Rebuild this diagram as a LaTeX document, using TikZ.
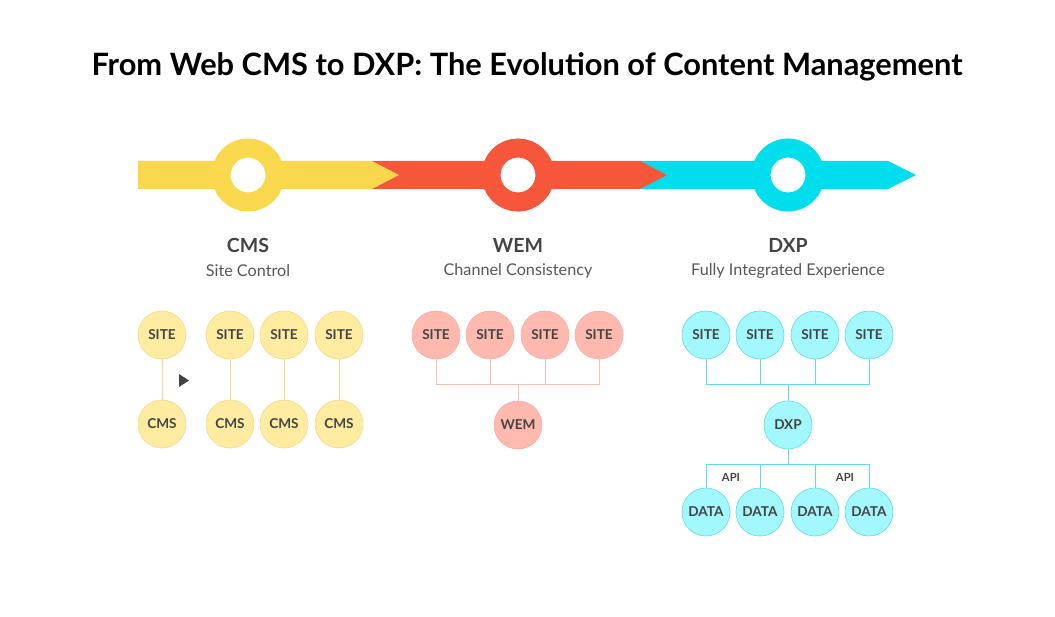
\documentclass[tikz,border=0pt]{standalone}
\usepackage{fontspec}
\setmainfont{Lato}
\definecolor{bandyellow}{HTML}{F9D84E}
\definecolor{bandred}{HTML}{F6573B}
\definecolor{bandcyan}{HTML}{00DEEE}
\definecolor{paleyellow}{HTML}{FFECA0}
\definecolor{palered}{HTML}{FFB9AE}
\definecolor{palecyan}{HTML}{A2F8FC}
\definecolor{edgeyellow}{HTML}{F2D98A}
\definecolor{edgered}{HTML}{F5AEA3}
\definecolor{edgecyan}{HTML}{5EDDE8}
\definecolor{textgray}{HTML}{444444}
\begin{document}
\begin{tikzpicture}[x=1pt, y=-1pt,
    ring/.style={circle, minimum size=54pt, inner sep=0pt, line width=19pt, fill=white},
    heading/.style={font=\bfseries\fontsize{19.5}{22}\selectfont, text=textgray},
    subhead/.style={font=\fontsize{16.2}{18}\selectfont, text=textgray!90},
    bubble/.style={circle, minimum size=48pt, inner sep=0pt, line width=0.6pt, text=textgray, font=\bfseries\fontsize{13.6}{15}\selectfont},
    cmsbubble/.style={bubble, fill=paleyellow, draw=edgeyellow},
    wembubble/.style={bubble, fill=palered, draw=edgered},
    dxpbubble/.style={bubble, fill=palecyan, draw=edgecyan},
    cmsline/.style={draw=edgeyellow, line width=1pt},
    wemline/.style={draw=edgered!80, line width=1pt},
    dxpline/.style={draw=edgecyan, line width=1pt},
    apilabel/.style={font=\bfseries\fontsize{11.2}{13}\selectfont, text=textgray}]
\useasboundingbox (0,0) rectangle (1055,617);
\node[font=\bfseries\fontsize{30.8}{34}\selectfont] (title) at (527,67) {From Web CMS to DXP: The Evolution of Content Management};
\fill[bandcyan] (640,161) -- (888,161) -- (916,175) -- (888,189) -- (640,189) -- cycle;
\fill[bandred] (372,161) -- (640,161) -- (667,175) -- (640,189) -- (372,189) -- cycle;
\fill[bandyellow] (138,161) -- (372,161) -- (399,175) -- (372,189) -- (138,189) -- cycle;
\node[ring, draw=bandyellow] (cmsring) at (248,175) {};
\node[ring, draw=bandred] (wemring) at (518,175) {};
\node[ring, draw=bandcyan] (dxpring) at (788,175) {};
\node[heading] (cmshead) at (248,245) {CMS};
\node[subhead] (cmssub) at (248,271) {Site Control};
\node[heading] (wemhead) at (518,245) {WEM};
\node[subhead] (wemsub) at (518,271) {Channel Consistency};
\node[heading] (dxphead) at (788,245) {DXP};
\node[subhead] (dxpsub) at (788,271) {Fully Integrated Experience};
\foreach \i/\x in {1/162,2/230,3/284,4/339} {
    \node[cmsbubble] (cs\i) at (\x,335) {SITE};
    \node[cmsbubble] (cc\i) at (\x,424) {CMS};
    \draw[cmsline] (cs\i) -- (cc\i);
}
\fill[textgray] (179,374) -- (189,380.5) -- (179,387) -- cycle;
\foreach \i/\x in {1/436,2/490,3/545,4/599}
    \node[wembubble] (ws\i) at (\x,335) {SITE};
\node[wembubble] (wem) at (518,425) {WEM};
\coordinate (wj) at (518,385);
\foreach \i in {1,...,4}
    \draw[wemline] (ws\i) |- (wj);
\draw[wemline] (wj) -- (wem);
\foreach \i/\x in {1/706,2/760,3/815,4/869} {
    \node[dxpbubble] (ds\i) at (\x,335) {SITE};
    \node[dxpbubble] (dd\i) at (\x,512) {DATA};
}
\node[dxpbubble] (dxp) at (788,425) {DXP};
\coordinate (dj) at (788,385);
\coordinate (dk) at (788,464);
\foreach \i in {1,...,4} {
    \draw[dxpline] (ds\i) |- (dj);
    \draw[dxpline] (dk) -| (dd\i);
}
\draw[dxpline] (dj) -- (dxp);
\draw[dxpline] (dxp) -- (dk);
\node[apilabel] (api1) at (731,477) {API};
\node[apilabel] (api2) at (845,477) {API};
\end{tikzpicture}
\end{document}
